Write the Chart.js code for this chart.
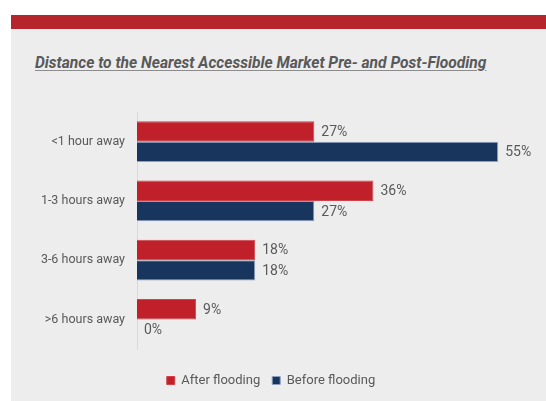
<!DOCTYPE html>
<html>
<head>
<meta charset="utf-8">
<script src="https://cdn.jsdelivr.net/npm/chart.js@4/dist/chart.umd.min.js"></script>
<style>
  html, body { margin: 0; padding: 0; background: #ffffff; }
  body { width: 546px; height: 401px; position: relative; overflow: hidden; }
  #panel { position: absolute; left: 11px; top: 15px; width: 535px; height: 386px; background: #ededed; }
  #band { position: absolute; left: 11px; top: 15px; width: 535px; height: 14px; background: #b5252b; }
  #title {
    position: absolute; left: 35px; top: 54px; margin: 0;
    font-family: Roboto, "Noto Sans", sans-serif; font-size: 15.6px; font-weight: 700; font-style: italic;
    color: #595959; text-decoration: underline; text-decoration-color: #8c8c8c; text-underline-offset: 2px;
    white-space: nowrap; line-height: 1.2;
  }
  #wrap { position: absolute; left: 11px; top: 29px; width: 535px; height: 372px; }
</style>
</head>
<body>
<div id="panel"></div>
<div id="band"></div>
<h1 id="title">Distance to the Nearest Accessible Market Pre- and Post-Flooding</h1>
<div id="wrap"><canvas id="chart" width="535" height="372"></canvas></div>
<script>
// Categories and series (share of respondents, %)
const categories = ['<1 hour away', '1-3 hours away', '3-6 hours away', '>6 hours away'];
const afterFlooding = [27, 36, 18, 9];
const beforeFlooding = [55, 27, 18, 0];
const seriesNames = ['After flooding', 'Before flooding'];

const TEXT = '#595959';
const FONT = 'Roboto, "Noto Sans", sans-serif';

// Writes the percentage just past the end of each bar
const valueLabels = {
  id: 'valueLabels',
  afterDatasetsDraw(chart) {
    const ctx = chart.ctx;
    ctx.save();
    ctx.font = '14px ' + FONT;
    ctx.fillStyle = TEXT;
    ctx.textAlign = 'left';
    ctx.textBaseline = 'middle';
    chart.data.datasets.forEach((ds, i) => {
      chart.getDatasetMeta(i).data.forEach((bar, j) => {
        ctx.fillText(ds.data[j] + '%', bar.x + 7, bar.y + 1);
      });
    });
    ctx.restore();
  }
};

new Chart(document.getElementById('chart'), {
  type: 'bar',
  data: {
    labels: categories,
    datasets: [
      {
        label: seriesNames[0],
        data: afterFlooding,
        backgroundColor: '#c0202a',
        borderColor: '#d2424a',
        borderWidth: ctx => (ctx.raw === 0 ? 0 : 1)
      },
      {
        label: seriesNames[1],
        data: beforeFlooding,
        backgroundColor: '#18355e',
        borderColor: '#8c9fbd',
        borderWidth: ctx => (ctx.raw === 0 ? 0 : 1)
      }
    ]
  },
  options: {
    indexAxis: 'y',
    responsive: false,
    animation: false,
    devicePixelRatio: 1,
    layout: { padding: { top: 83, right: 15, bottom: 4, left: 0 } },
    datasets: { bar: { categoryPercentage: 0.684, barPercentage: 1 } },
    scales: {
      x: {
        min: 0, max: 60,
        grid: { display: false },
        border: { display: false },
        ticks: { display: false },
        // empty strip between the bars and the legend
        afterFit(scale) { scale.height = 13; }
      },
      y: {
        grid: { display: false },
        border: { display: true, color: '#d9d9d9', width: 1 },
        ticks: { color: TEXT, font: { family: FONT, size: 12.5 }, padding: 4 },
        afterFit(scale) { scale.width = 126; }
      }
    },
    plugins: {
      legend: {
        position: 'bottom',
        labels: {
          color: TEXT,
          font: { family: FONT, size: 13 },
          boxWidth: 8,
          boxHeight: 8,
          padding: 12
        }
      },
      tooltip: { enabled: false }
    }
  },
  plugins: [valueLabels]
});
</script>
</body>
</html>
